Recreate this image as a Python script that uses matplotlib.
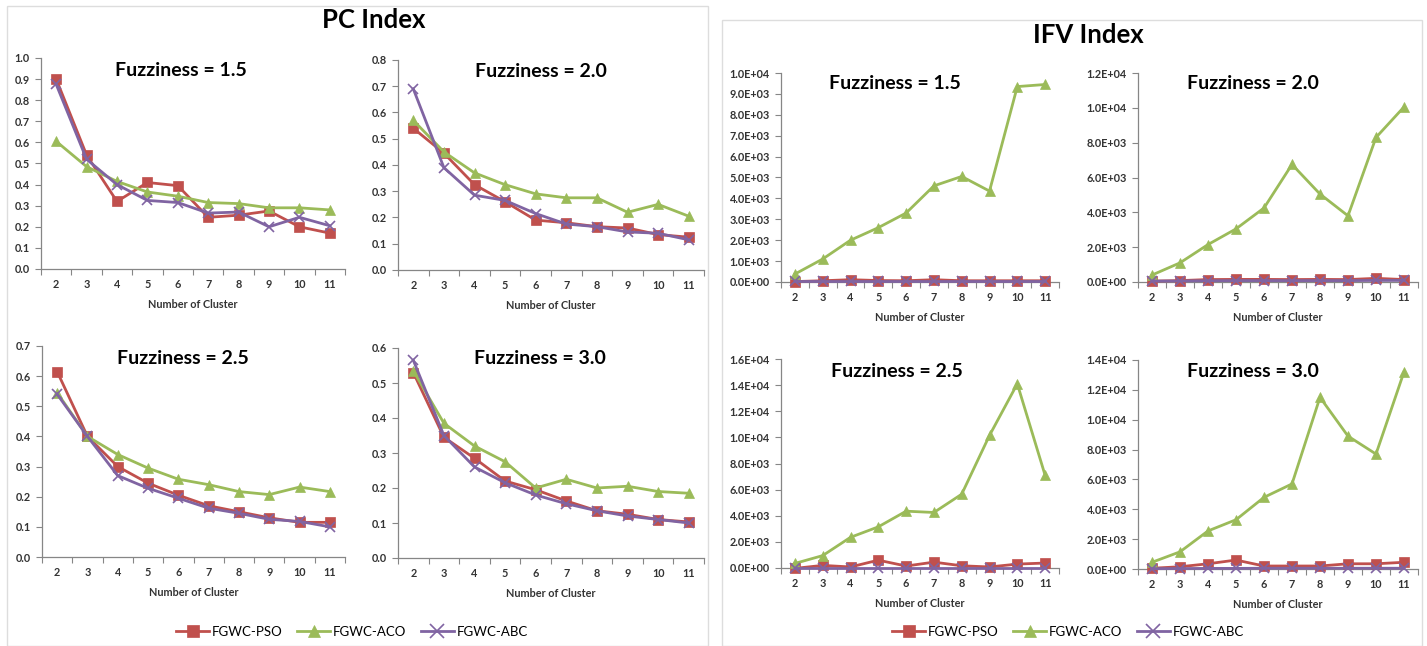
import numpy as np
import matplotlib
matplotlib.use("Agg")
import matplotlib.pyplot as plt
from matplotlib.ticker import FixedLocator, FuncFormatter, NullFormatter
from matplotlib.patches import Rectangle

plt.rcParams['font.family'] = ['Lato', 'DejaVu Sans']

clusters = [2, 3, 4, 5, 6, 7, 8, 9, 10, 11]
methods = ['FGWC-PSO', 'FGWC-ACO', 'FGWC-ABC']
fuzziness = ['1.5', '2.0', '2.5', '3.0']

# PC index values per fuzziness
pc_pso = [
    [0.90, 0.54, 0.32, 0.41, 0.395, 0.245, 0.255, 0.275, 0.20, 0.17],
    [0.54, 0.445, 0.325, 0.26, 0.19, 0.18, 0.165, 0.16, 0.135, 0.125],
    [0.615, 0.40, 0.30, 0.245, 0.205, 0.17, 0.15, 0.13, 0.115, 0.115],
    [0.53, 0.345, 0.285, 0.22, 0.195, 0.163, 0.135, 0.125, 0.11, 0.103],
]
pc_aco = [
    [0.605, 0.485, 0.415, 0.365, 0.345, 0.315, 0.31, 0.29, 0.29, 0.28],
    [0.57, 0.45, 0.37, 0.325, 0.29, 0.275, 0.275, 0.22, 0.25, 0.205],
    [0.545, 0.40, 0.34, 0.295, 0.258, 0.24, 0.217, 0.207, 0.232, 0.217],
    [0.535, 0.385, 0.32, 0.275, 0.20, 0.225, 0.20, 0.205, 0.19, 0.185],
]
pc_abc = [
    [0.875, 0.52, 0.40, 0.325, 0.315, 0.265, 0.27, 0.20, 0.245, 0.205],
    [0.69, 0.39, 0.285, 0.265, 0.215, 0.175, 0.165, 0.145, 0.14, 0.115],
    [0.54, 0.40, 0.27, 0.228, 0.195, 0.162, 0.145, 0.125, 0.118, 0.10],
    [0.565, 0.35, 0.26, 0.215, 0.18, 0.155, 0.135, 0.12, 0.11, 0.10],
]

# IFV index values per fuzziness
ifv_pso = [
    [20, 60, 110, 70, 60, 110, 60, 60, 60, 60],
    [50, 80, 140, 150, 150, 140, 150, 140, 210, 140],
    [-30, 200, 80, 600, 150, 450, 170, 80, 300, 380],
    [50, 150, 350, 600, 200, 200, 200, 350, 350, 450],
]
ifv_aco = [
    [380, 1100, 2000, 2600, 3300, 4600, 5050, 4350, 9350, 9450],
    [400, 1100, 2150, 3050, 4250, 6750, 5050, 3800, 8300, 10050],
    [350, 950, 2350, 3150, 4350, 4250, 5650, 10150, 14100, 7100],
    [450, 1150, 2550, 3300, 4800, 5700, 11500, 8900, 7700, 13200],
]
ifv_abc = [
    [50, 50, 50, 50, 50, 50, 50, 50, 50, 50],
    [50, 60, 70, 80, 80, 80, 80, 80, 90, 90],
    [20, 20, 20, 20, 20, 20, 20, 20, 20, 20],
    [20, 30, 40, 40, 50, 50, 50, 50, 50, 50],
]

pc_ymax = [1.0, 0.8, 0.7, 0.6]
ifv_ymax = [1.0e4, 1.2e4, 1.6e4, 1.4e4]
ifv_ystep = [1.0e3, 2.0e3, 2.0e3, 2.0e3]

colors = ['#C0504D', '#9BBB59', '#8064A2']
markers = ['s', '^', 'x']

W, H = 1427, 646
fig = plt.figure(figsize=[W / 100, H / 100], dpi=100)

def px_axes(left, right, top, bottom):
    return fig.add_axes([left / W, 1 - bottom / H, (right - left) / W, (bottom - top) / H])

# panel boxes
fig.patches.append(Rectangle((7 / W, 0), (708 - 7) / W, 1 - 6 / H, transform=fig.transFigure,
                             fill=False, edgecolor='#dddddd', linewidth=1))
fig.patches.append(Rectangle((722 / W, 0), (1422 - 722) / W, 1 - 20 / H, transform=fig.transFigure,
                             fill=False, edgecolor='#dddddd', linewidth=1))

pc_boxes = [(41, 345, 58, 269), (398, 704, 60, 270), (42, 345, 346, 557), (398, 704, 348, 558)]
ifv_boxes = [(781, 1059, 73, 282), (1138, 1418, 73, 282), (781, 1059, 359, 568), (1138, 1418, 360, 569)]
pc_title_pos = [(0.46, 0.943), (0.466, 0.943), (0.466, 0.943), (0.465, 0.948)]
ifv_title_pos = [(0.41, 0.95), (0.41, 0.95), (0.417, 0.94), (0.41, 0.947)]

def style_axes(ax, ymax, ystep, fmt):
    for s in ['top', 'right']:
        ax.spines[s].set_visible(False)
    for s in ['left', 'bottom']:
        ax.spines[s].set_color('#868686')
        ax.spines[s].set_linewidth(0.9)
    ax.set_xlim(1.5, 11.5)
    ax.set_ylim(0, ymax)
    ax.xaxis.set_major_locator(FixedLocator(np.arange(1.5, 12, 1.0)))
    ax.xaxis.set_major_formatter(NullFormatter())
    ax.xaxis.set_minor_locator(FixedLocator(clusters))
    ax.xaxis.set_minor_formatter(FuncFormatter(lambda v, p: '%d' % v))
    ax.tick_params(axis='x', which='major', direction='out', length=4, color='#868686')
    ax.tick_params(axis='x', which='minor', length=0, pad=7, labelsize=7.8, labelcolor='#333333')
    for lab in ax.get_xticklabels(minor=True):
        lab.set_fontweight('bold')
    ax.yaxis.set_major_locator(FixedLocator(np.arange(0, ymax + ystep / 2, ystep)))
    ax.yaxis.set_major_formatter(FuncFormatter(fmt))
    ax.tick_params(axis='y', direction='out', length=4, color='#868686', pad=4,
                   labelsize=7.8, labelcolor='#333333')
    for lab in ax.get_yticklabels():
        lab.set_fontweight('bold')
    ax.set_xlabel('Number of Cluster', fontsize=7.8, fontweight='bold', color='#333333', labelpad=7)

def draw_lines(ax, series):
    handles = []
    for k in range(3):
        h, = ax.plot(clusters, series[k], color=colors[k], marker=markers[k], linewidth=2,
                     markersize=7 if k < 2 else 7.5, markeredgewidth=1.2 if k == 2 else 0.5,
                     markeredgecolor=colors[k], clip_on=False, zorder=3 + k)
        handles.append(h)
    return handles

for i in range(4):
    ax = px_axes(*pc_boxes[i])
    draw_lines(ax, [pc_pso[i], pc_aco[i], pc_abc[i]])
    style_axes(ax, pc_ymax[i], 0.1, lambda v, p: '%.1f' % v)
    ax.text(pc_title_pos[i][0], pc_title_pos[i][1], 'Fuzziness = ' + fuzziness[i], transform=ax.transAxes,
            ha='center', va='center', fontsize=14, fontweight='bold')

for i in range(4):
    ax = px_axes(*ifv_boxes[i])
    handles = draw_lines(ax, [ifv_pso[i], ifv_aco[i], ifv_abc[i]])
    style_axes(ax, ifv_ymax[i], ifv_ystep[i], lambda v, p: '{:.1E}'.format(v))
    ax.text(ifv_title_pos[i][0], ifv_title_pos[i][1], 'Fuzziness = ' + fuzziness[i], transform=ax.transAxes,
            ha='center', va='center', fontsize=14, fontweight='bold')

fig.text(374 / W, 1 - 20 / H, 'PC Index', ha='center', va='center', fontsize=18.5, fontweight='bold')
fig.text(1088 / W, 1 - 35 / H, 'IFV Index', ha='center', va='center', fontsize=18.5, fontweight='bold')

for cx in [352, 1068]:
    fig.legend(handles, methods, loc='center', bbox_to_anchor=(cx / W, 1 - 632 / H), ncol=3,
               frameon=False, fontsize=9.5, handlelength=2.5, columnspacing=1.1, handletextpad=0.2,
               markerscale=1.25)

fig.savefig('out.png', dpi=100)
